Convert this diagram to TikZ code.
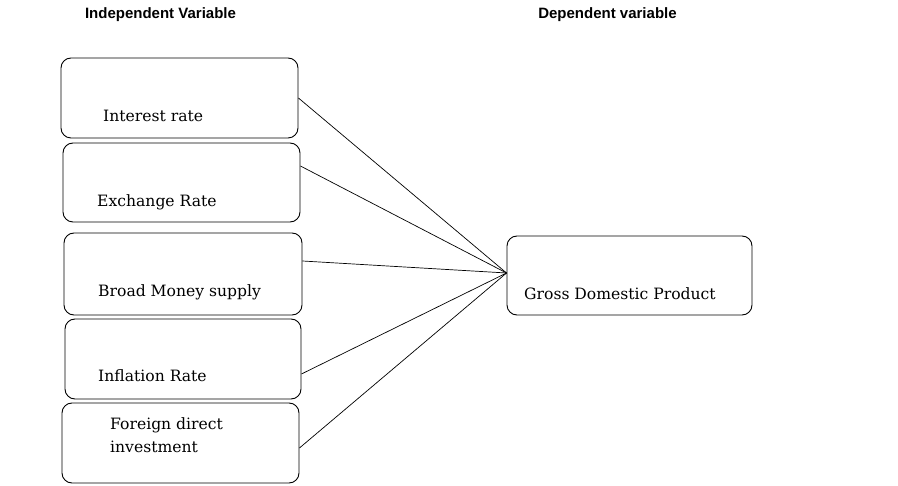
\documentclass[tikz,border=0pt]{standalone}
\usepackage{fontspec}
\setmainfont{DejaVu Serif}
\newfontfamily\hdrfont{Liberation Sans}
\usetikzlibrary{calc}
\begin{document}
\begin{tikzpicture}[x=1pt,y=-1pt,
  vbox/.style={draw, line width=0.9pt, rounded corners=10pt, inner sep=0pt},
  lbl/.style={anchor=base west, inner sep=0pt, font=\fontsize{15.6}{18}\selectfont},
  hdr/.style={anchor=center, inner sep=0pt, font=\hdrfont\bfseries\fontsize{15}{17}\selectfont},
  conn/.style={line width=0.7pt}]
\useasboundingbox (0,0) rectangle (898,486);
\fill[white] (0,0) rectangle (898,486);
\node[hdr] (h1) at (160.5,15) {Independent Variable};
\node[hdr] (h2) at (607.5,15) {Dependent variable};
% boxes
\node[vbox, minimum width=237pt, minimum height=80pt] (b1) at (179.5,98) {};
\node[vbox, minimum width=237pt, minimum height=79pt] (b2) at (181.5,182.5) {};
\node[vbox, minimum width=238pt, minimum height=82pt] (b3) at (183,274) {};
\node[vbox, minimum width=236pt, minimum height=80pt] (b4) at (183,359) {};
\node[vbox, minimum width=237pt, minimum height=80pt] (b5) at (180.5,443) {};
\node[vbox, minimum width=245pt, minimum height=79pt] (g) at (629.5,275.5) {};
% labels
\node[lbl] (t1) at (103,122) {Interest rate};
\node[lbl] (t2) at (97,207) {Exchange Rate};
\node[lbl] (t3) at (98,297) {Broad Money supply};
\node[lbl] (t4) at (98,382) {Inflation Rate};
\node[lbl, align=left, anchor=north west, font=\fontsize{15.6}{23}\selectfont] (t5) at (110,417) {Foreign direct\\investment};
\node[lbl] (tg) at (524,300) {Gross Domestic Product};
% connector end points
\coordinate (e) at ([yshift=2.5pt]g.west);
\coordinate (s2) at ([yshift=16.5pt]b2.east);
\coordinate (s3) at ([yshift=13pt]b3.east);
\coordinate (s4) at ([yshift=-15pt]b4.east);
\coordinate (s5) at ([yshift=-5pt]b5.east);
\draw[conn] (b1.east) -- (e);
\draw[conn] (s2) -- (e);
\draw[conn] (s3) -- (e);
\draw[conn] (s4) -- (e);
\draw[conn] (s5) -- (e);
\end{tikzpicture}
\end{document}
